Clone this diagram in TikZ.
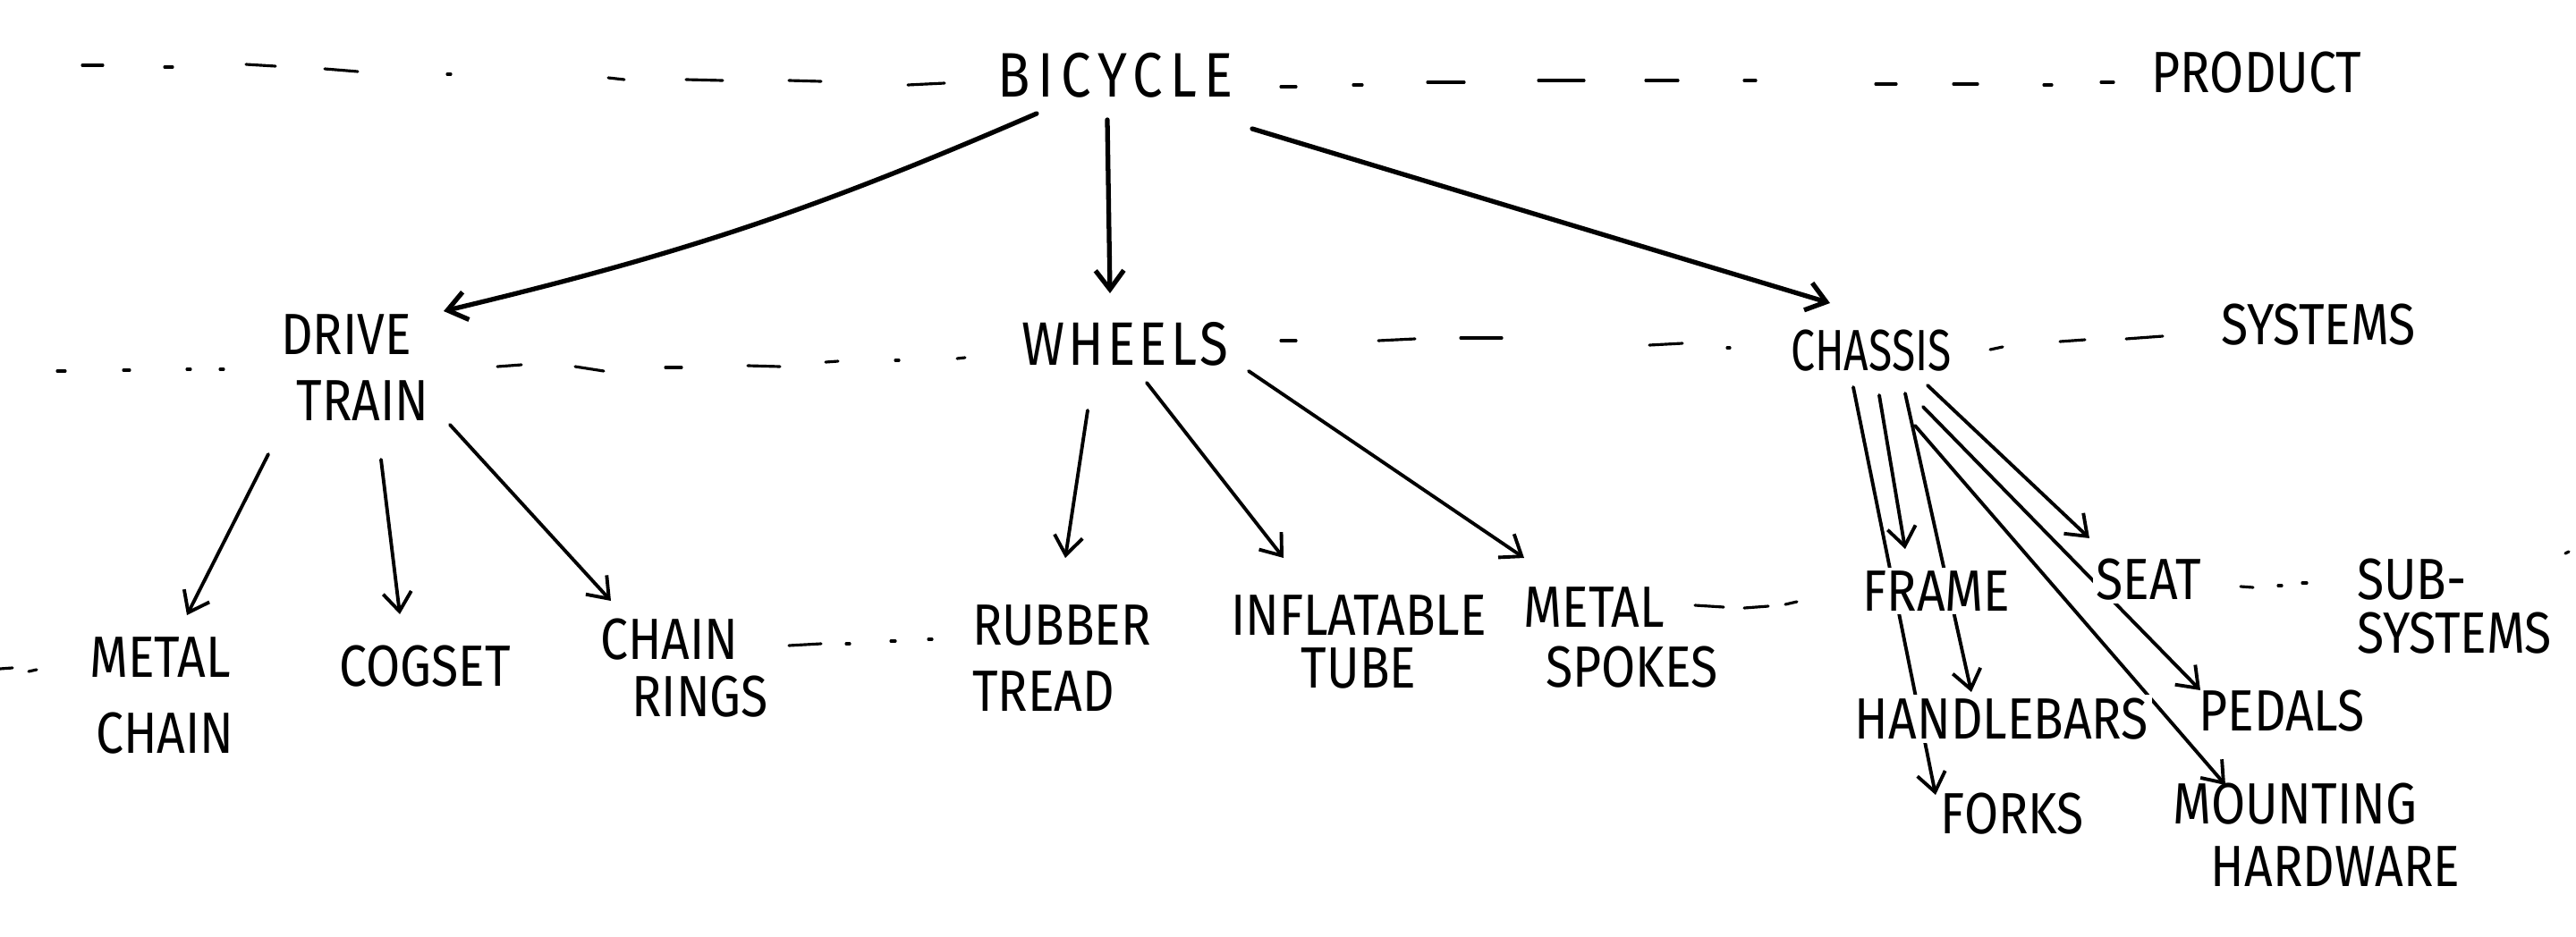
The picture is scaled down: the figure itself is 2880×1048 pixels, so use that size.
\documentclass[tikz,border=0pt]{standalone}
\usepackage{fontspec}
\setmainfont{Fira Sans}[FakeStretch=0.85]
\usetikzlibrary{arrows.meta,backgrounds,calc}
\begin{document}
\begin{tikzpicture}[x=0.01cm,y=-0.01cm,
  lbl/.style={font=\fontsize{18.5}{22}\selectfont, inner sep=2pt, align=center},
  lbll/.style={lbl, align=left},
  cut/.style={fill=white, inner sep=1pt},
  arr/.style={line width=1.1pt, -{Straight Barb[length=6pt,width=9pt]}, line cap=round, line join=round},
  big/.style={line width=1.5pt},
  lvl/.style={line width=0.9pt, line cap=round}]
\useasboundingbox (0,0) rectangle (2880,1048);

% nodes
\node[lbl] (bicycle) at (1247,84) {\fontsize{20}{24}\selectfont\addfontfeature{LetterSpace=12}BICYCLE};
\node[lbl] (product) at (2523,81) {PRODUCT};
\node[lbll] (drive) at (397,411) {DRIVE\\[-1pt]\hspace*{5pt}TRAIN};
\node[lbl] (wheels) at (1258,385) {\fontsize{19.5}{23}\selectfont\addfontfeature{LetterSpace=6}WHEELS};
\node[lbl] (chassis) at (2092,392) {\addfontfeature{FakeStretch=0.74}CHASSIS};
\node[lbl] (systems) at (2592,363) {SYSTEMS};
\node[lbll] (metalchain) at (181,778) {METAL\\[2pt]\hspace*{2pt}CHAIN};
\node[lbl] (cogset) at (475,745) {COGSET};
\node[lbll] (chainrings) at (765,747) {CHAIN\\[-4pt]\hspace*{10pt}RINGS};
\node[lbll] (rubbertread) at (1187,736) {RUBBER\\[-1pt]TREAD};
\node[lbl] (inflatabletube) at (1519,718) {INFLATABLE\\[-5pt]TUBE};
\node[lbll] (metalspokes) at (1812,713) {METAL\\[-3pt]\hspace*{7pt}SPOKES};
\node[lbl,cut] (frame) at (2165,661) {FRAME};
\node[lbl,cut] (seat) at (2402,648) {SEAT};
\node[lbll] (subsystems) at (2744,678) {SUB-\\[-5pt]SYSTEMS};
\node[lbl,cut] (handlebars) at (2238,804) {HANDLEBARS};
\node[lbl] (pedals) at (2551,795) {PEDALS};
\node[lbl] (forks) at (2250,910) {FORKS};
\node[lbll] (mounting) at (2590,934) {MOUNTING\\[-2pt]\hspace*{12pt}HARDWARE};

\begin{scope}[on background layer]
\fill[white] (0,0) rectangle (2880,1048);
% level lines
\foreach \a/\b/\c/\d in {92/73/115/73, 184/75/193/75, 275/72/308/74, 363/77/400/80, 500/83/504/83, 680/87/698/89, 767/89/808/90, 882/90/918/91, 1015/95/1056/93,
 1432/97/1449/97, 1513/95/1523/95, 1596/92/1637/92, 1720/90/1771/90, 1840/90/1876/90, 1950/90/1963/90, 2097/94/2120/94, 2184/94/2211/94, 2285/95/2294/95, 2349/92/2363/92,
 64/415/73/415, 138/414/145/414, 209/413/213/413, 246/413/250/413, 556/410/583/408, 643/410/675/415, 744/411/762/411, 836/409/872/410, 923/405/937/404, 1001/403/1005/403, 1070/401/1079/400,
 1432/381/1449/381, 1541/381/1582/379, 1633/378/1679/378, 1844/386/1881/384, 1931/389/1934/389,
 2225/391/2239/388, 2303/382/2331/380, 2377/379/2418/376,
 0/748/14/747, 32/751/41/749, 882/722/918/720, 946/720/950/720, 996/717/1001/717, 1038/715/1042/715,
 1895/677/1927/679, 1950/680/1977/678, 1996/676/2009/673, 2505/656/2519/657, 2547/655/2551/655, 2574/652/2579/652, 2868/619/2872/617}
  \draw[lvl] (\a,\b) -- (\c,\d);

% connectors
\draw[arr,big] ($(bicycle)+(-88,43)$) to[bend left=5] ($(drive)+(99,-63)$);
\draw[arr,big] ($(bicycle)+(-9,50)$) -- ($(wheels)+(-17,-57)$);
\draw[arr,big] ($(bicycle)+(153,60)$) -- ($(chassis)+(-46,-53)$);

\draw[arr] ($(drive)+(-97,97)$) -- ($(metalchain)+(28,-90)$);
\draw[arr] ($(drive)+(29,103)$) -- ($(cogset)+(-28,-58)$);
\draw[arr] ($(drive)+(106,64)$) -- ($(chainrings)+(-82,-75)$);

\draw[arr] ($(wheels)+(-42,74)$) -- ($(rubbertread)+(4,-112)$);
\draw[arr] ($(wheels)+(24,43)$) -- ($(inflatabletube)+(-84,-94)$);
\draw[arr] ($(wheels)+(138,30)$) -- ($(metalspokes)+(-108,-89)$);

\draw[arr] ($(chassis)+(9,50)$) -- ($(frame)+(-35,-47)$);
\draw[arr] ($(chassis)+(63,39)$) -- ($(seat)+(-66,-46)$);
\draw[arr] ($(chassis)+(38,48)$) -- ($(handlebars)+(-34,-30)$);
\draw[arr] ($(chassis)+(-20,41)$) -- ($(forks)+(-86,-21)$);
\draw[arr] ($(chassis)+(49,84)$) -- ($(mounting)+(-102,-56)$);
\draw[arr] ($(chassis)+(58,63)$) -- ($(pedals)+(-91,-23)$);
\end{scope}
\end{tikzpicture}
\end{document}
